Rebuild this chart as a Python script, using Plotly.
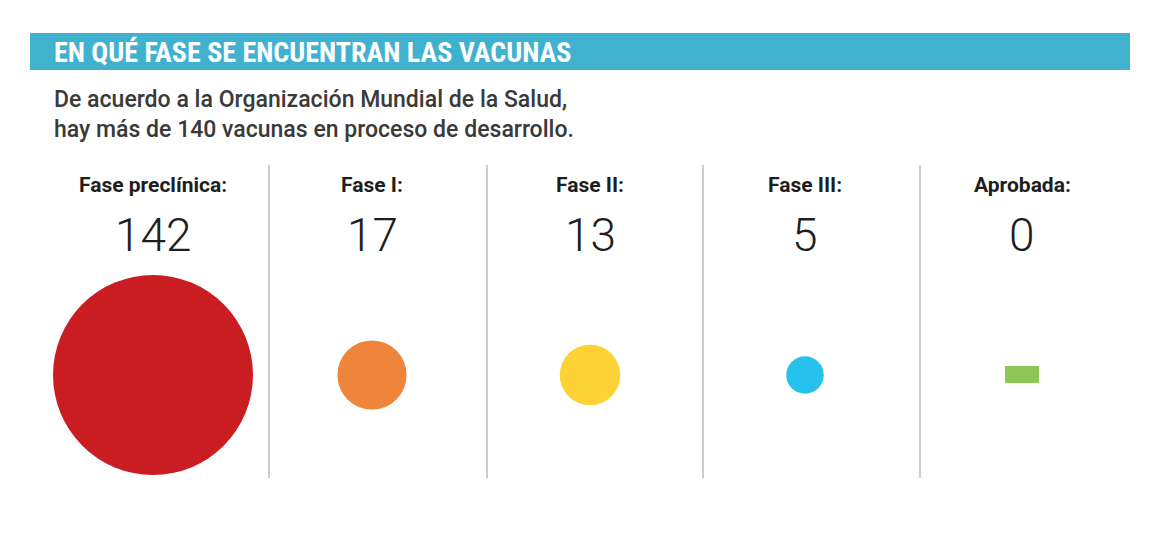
import math
import plotly.graph_objects as go

W, H = 1165, 547

fases = ["Fase preclínica:", "Fase I:", "Fase II:", "Fase III:", "Aprobada:"]
vacunas = [142, 17, 13, 5, 0]
colores = ["#c91d22", "#ee853b", "#fdd235", "#27c1ee", "#8dc653"]
centros = [153, 372, 590, 805, 1022]
divisores = [269, 487, 703, 920]

titulo = "EN QUÉ FASE SE ENCUENTRAN LAS VACUNAS"
subtitulo = "De acuerdo a la Organización Mundial de la Salud,<br>hay más de 140 vacunas en proceso de desarrollo."

max_d = 200
sizes = [max_d * math.sqrt(v / max(vacunas)) for v in vacunas]

fig = go.Figure()
fig.add_trace(go.Scatter(
    x=[c for c, v in zip(centros, vacunas) if v > 0],
    y=[375] * sum(1 for v in vacunas if v > 0),
    mode="markers",
    marker=dict(size=[s for s, v in zip(sizes, vacunas) if v > 0],
                color=[c for c, v in zip(colores, vacunas) if v > 0],
                line=dict(width=0), opacity=1),
    hoverinfo="skip",
))

# aprobada = 0 -> small green bar
for c, v, col in zip(centros, vacunas, colores):
    if v == 0:
        fig.add_shape(type="rect", x0=c - 17, x1=c + 17, y0=366, y1=383,
                      fillcolor=col, line_width=0)

# header bar
fig.add_shape(type="rect", x0=30, x1=1130, y0=33, y1=70,
              fillcolor="#41b1d0", line_width=0, layer="below")
fig.add_annotation(x=52, y=52, text="<b>" + titulo + "</b>", showarrow=False,
                   xanchor="left", yanchor="middle",
                   font=dict(family="Roboto Condensed, Roboto", size=28, color="white"))
fig.add_annotation(x=52, y=114, text=subtitulo, showarrow=False,
                   xanchor="left", yanchor="middle", align="left",
                   font=dict(family="Roboto Medium, Roboto", size=23, color="#3a3a3a"))

for d in divisores:
    fig.add_shape(type="line", x0=d, x1=d, y0=165, y1=478,
                  line=dict(color="#bdbdbd", width=1.5))

for c, f, v in zip(centros, fases, vacunas):
    fig.add_annotation(x=c, y=185, text="<b>" + f + "</b>", showarrow=False,
                       font=dict(family="Roboto", size=21, color="#1e1e1e"))
    fig.add_annotation(x=c, y=235, text=str(v), showarrow=False,
                       font=dict(family="Roboto Light, Roboto", size=46, color="#1e1e1e"))

# page is offset by the 8px body margin, so shift the ranges to match
fig.update_layout(
    width=W, height=H, margin=dict(l=0, r=0, t=0, b=0),
    plot_bgcolor="white", paper_bgcolor="white", showlegend=False,
    xaxis=dict(range=[8, W + 8], visible=False, fixedrange=True),
    yaxis=dict(range=[H + 8, 8], visible=False, fixedrange=True),
)
fig.write_html("out.html")
